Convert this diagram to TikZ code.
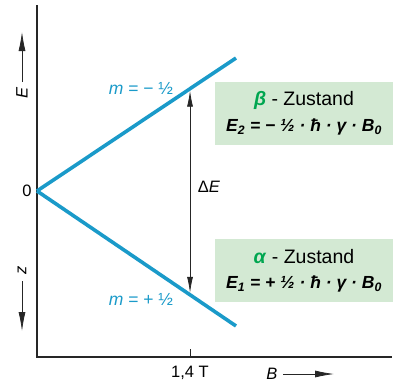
\documentclass[tikz,border=0pt]{standalone}
\usepackage{fontspec}
\setmainfont{Liberation Sans}
\usetikzlibrary{arrows.meta,calc}
\definecolor{lineblue}{HTML}{1A9AC9}
\definecolor{boxgreen}{HTML}{D3E9D3}
\definecolor{txtgreen}{HTML}{00A650}
\begin{document}
\begin{tikzpicture}[x=1pt,y=-1pt,
  axis/.style={line width=2pt,black!85},
  level/.style={line width=3.6pt,lineblue},
  statebox/.style={fill=boxgreen,minimum width=178pt,minimum height=63pt,align=center,inner sep=0pt},
  mlabel/.style={text=lineblue,font=\fontsize{17.5}{19}\selectfont},
  lbl/.style={font=\fontsize{16.5}{19}\selectfont},
  arr/.style={-{Latex[length=19pt,width=7pt]},line width=0.8pt,black!85}]
\useasboundingbox (0,0) rectangle (405,386);
% axes
\coordinate (top) at (37,5);
\coordinate (corner) at (37,357);
\coordinate (right) at (392,357);
\draw[axis] (top) -- (corner) -- (right);
\coordinate (tickA) at (190,357);
\coordinate (tickB) at (190,349);
\draw[line width=0.8pt,black!85] (tickA) -- (tickB);
% levels
\coordinate (O) at (37,191);
\coordinate (U) at (236,58);
\coordinate (L) at (236,326);
\draw[level] (O) -- (U);
\draw[level] (O) -- (L);
% delta E
\coordinate (dU) at ($(O)!0.769!(U)$);
\coordinate (dL) at ($(O)!0.769!(L)$);
\draw[{Latex[length=16pt,width=6pt]}-{Latex[length=16pt,width=6pt]},line width=0.8pt,black!85,shorten <=2pt,shorten >=2pt] (dU) -- (dL);
\node[lbl] (dE) at (209,187) {Δ\textit{E}};
% labels
\node[mlabel] (mminus) at (141,88) {\textit{m} = − ½};
\node[mlabel] (mplus) at (141,299) {\textit{m} = + ½};
\node[lbl] (zero) at (27,191) {0};
\node[lbl] (tickl) at (190,373) {1,4 T};
\node[lbl] (Blab) at (272,374) {\textit{B}};
\coordinate (Ba) at (283,374);
\coordinate (Bb) at (334,374);
\draw[arr] (Ba) -- (Bb);
% E arrow
\node[lbl,rotate=90] (Elab) at (22,93) {\textit{E}};
\coordinate (Ea) at (22,82);
\coordinate (Eb) at (22,32);
\draw[arr] (Ea) -- (Eb);
\node[lbl,rotate=90] (zlab) at (22,270) {\textit{z}};
\coordinate (za) at (22,281);
\coordinate (zb) at (22,331);
\draw[arr] (za) -- (zb);
% boxes
\node[statebox] (beta) at (304,113.5) {};
\node[font=\fontsize{19.5}{22}\selectfont] (betaT) at (304,100) {{\color{txtgreen}\textbf{\textit{β}}} - Zustand};
\node[font=\fontsize{17.5}{20}\selectfont] (betaE) at (304,127) {\textbf{\textit{E\textsubscript{2} = − ½ · ħ · γ · B\textsubscript{0}}}};
\node[statebox] (alpha) at (304,270.5) {};
\node[font=\fontsize{19.5}{22}\selectfont] (alphaT) at (304,257) {{\color{txtgreen}\textbf{\textit{α}}} - Zustand};
\node[font=\fontsize{17.5}{20}\selectfont] (alphaE) at (304,284) {\textbf{\textit{E\textsubscript{1} = + ½ · ħ · γ · B\textsubscript{0}}}};
\end{tikzpicture}
\end{document}
